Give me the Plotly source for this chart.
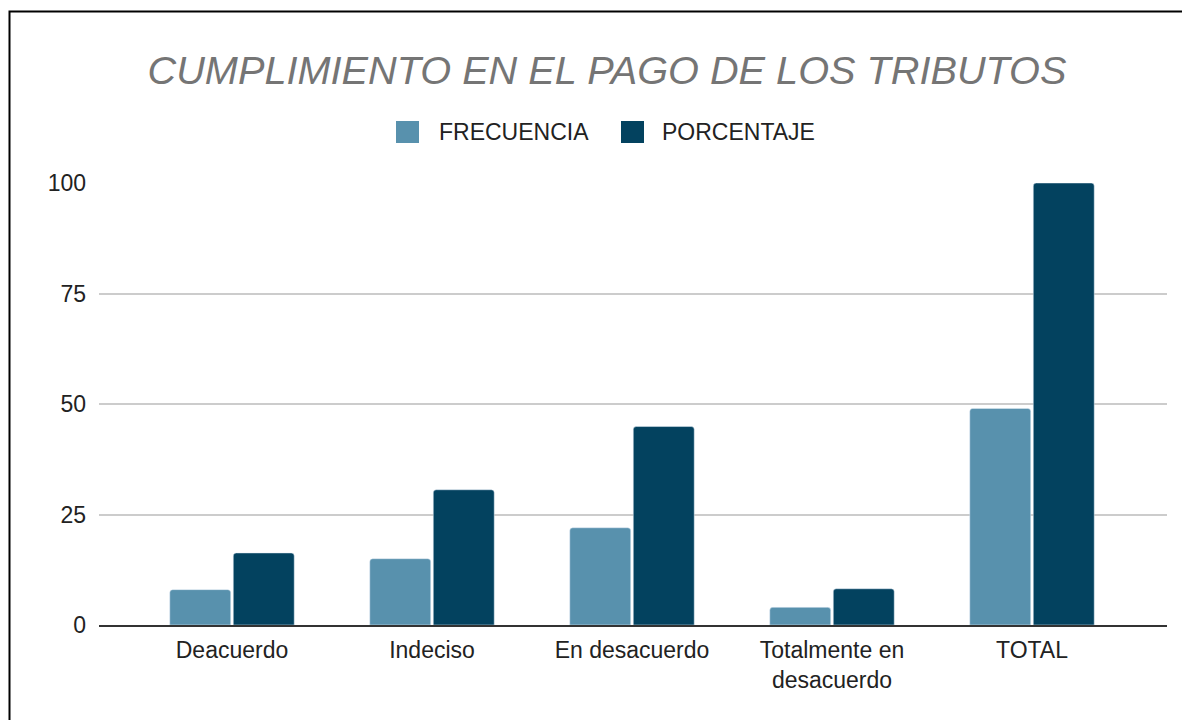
import plotly.graph_objects as go

categories = ["Deacuerdo", "Indeciso", "En desacuerdo", "Totalmente en<br>desacuerdo", "TOTAL"]
series_names = ["FRECUENCIA", "PORCENTAJE"]
frecuencia = [8, 15, 22, 4, 49]
porcentaje = [16.3, 30.6, 44.9, 8.2, 100]
y_ticks = [0, 25, 50, 75, 100]
colors = ["#5891ad", "#03425f"]

FONT = "Liberation Sans, Arial, sans-serif"
W, H = 1190, 720
ML, MR, MT, MB = 91, 31, 175, 103
PW, PH = W - ML - MR, H - MT - MB

def px_to_paper_x(px):
    return (px - ML) / PW

def px_to_paper_y(py):
    return (H - MB - py) / PH

fig = go.Figure()
fig.add_trace(go.Bar(name=series_names[0], x=categories, y=frecuencia, marker_color=colors[0], showlegend=False))
fig.add_trace(go.Bar(name=series_names[1], x=categories, y=porcentaje, marker_color=colors[1], showlegend=False))

shapes = [dict(type="rect", xref="paper", yref="paper",
               x0=px_to_paper_x(1.5), x1=px_to_paper_x(1200),
               y0=px_to_paper_y(730), y1=px_to_paper_y(3.5),
               line=dict(color="black", width=2), fillcolor="rgba(0,0,0,0)", layer="above")]
annotations = []
legend_sq_x = [388, 613]
legend_txt_x = [429, 652]
for name, col, sx, tx in zip(series_names, colors, legend_sq_x, legend_txt_x):
    shapes.append(dict(type="rect", xref="paper", yref="paper",
                       x0=px_to_paper_x(sx), x1=px_to_paper_x(sx + 23),
                       y0=px_to_paper_y(135), y1=px_to_paper_y(113),
                       line=dict(width=0), fillcolor=col))
    annotations.append(dict(text=name, xref="paper", yref="paper", x=px_to_paper_x(tx),
                            y=px_to_paper_y(124), xanchor="left", yanchor="middle", showarrow=False,
                            font=dict(family=FONT, size=23, color="#222222")))

fig.update_layout(
    width=W, height=H,
    margin=dict(l=ML, r=MR, t=MT, b=MB),
    paper_bgcolor="white", plot_bgcolor="white",
    font=dict(family=FONT, size=23, color="#222222"),
    barmode="group", bargap=0.365, bargroupgap=0.04, barcornerradius=3,
    title=dict(text="<i>CUMPLIMIENTO EN EL PAGO DE LOS TRIBUTOS</i>", x=599 / W, xref="container",
               xanchor="center", y=1 - 62 / H, yref="container", yanchor="middle",
               font=dict(family=FONT, size=39.7, color="#757575")),
    xaxis=dict(range=[-0.665, 4.675], showline=True, linecolor="#333333", linewidth=2,
               showgrid=False, ticks="", ticklabelstandoff=3, tickfont=dict(size=23, color="#222222")),
    yaxis=dict(range=[0, 100], tickvals=y_ticks, showgrid=True, gridcolor="#cccccc", gridwidth=1.5,
               zeroline=False, ticks="", ticklabelstandoff=12, tickfont=dict(size=23, color="#222222")),
    showlegend=False,
    shapes=shapes,
    annotations=annotations,
)

fig.write_html("out.html")
